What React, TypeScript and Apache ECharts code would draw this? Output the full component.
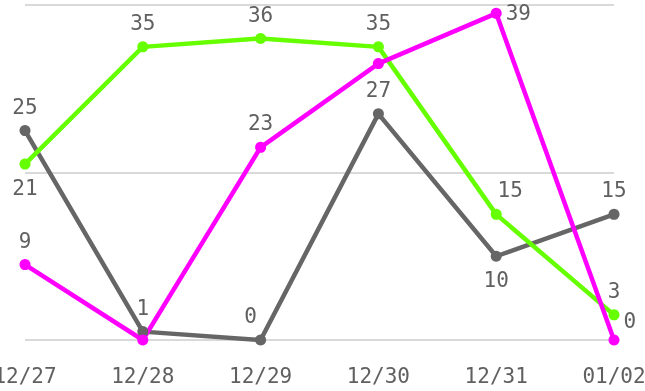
import React, { useEffect, useRef } from "react";
import * as echarts from "echarts";

const categories = ["12/27", "12/28", "12/29", "12/30", "12/31", "01/02"];
const grayValues = [25, 1, 0, 27, 10, 15];
const greenValues = [21, 35, 36, 35, 15, 3];
const magentaValues = [9, 0, 23, 33, 39, 0];

const grayLabelPos = ["top", "top", "top", "top", "bottom", "top"];
const greenLabelPos = ["bottom", "top", "top", "top", "top", "top"];
const magentaLabelPos = ["top", "none", "top", "none", "right", "right"];

const labelFont = "'DejaVu Sans Mono', monospace";

function build(values: number[], pos: string[], color: string, name: string) {
  return {
    name,
    type: "line",
    symbol: "circle",
    symbolSize: 11,
    lineStyle: { width: 4.5, color },
    itemStyle: { color },
    data: values.map((v, i) => {
      const p = pos[i];
      const label: any =
        p === "none"
          ? { show: false }
          : {
              show: true,
              position: p,
              distance: 8,
              color: "#606060",
              fontSize: 21,
              fontFamily: labelFont,
            };
      if (name === "gray" && i === 2) label.offset = [-10, 0];
      if (name === "green" && i === 4) label.offset = [14, 0];
      if (name === "magenta" && i === 5) label.offset = [-4, -19];
      if (name === "magenta" && i === 4) label.distance = 4;
      return { value: v, label };
    }),
  };
}

export default function App() {
  const ref = useRef<HTMLDivElement>(null);
  useEffect(() => {
    const chart = echarts.init(ref.current!, null, { renderer: "svg" });
    chart.setOption({
      animation: false,
      grid: { left: 25, right: 31, top: 5, bottom: 51, containLabel: false, outerBoundsMode: "none" },
      xAxis: {
        type: "category",
        data: categories,
        boundaryGap: false,
        axisLine: { show: false },
        axisTick: { show: false },
        axisLabel: {
          color: "#606060",
          fontSize: 21,
          fontFamily: labelFont,
          margin: 25,
        },
      },
      yAxis: {
        type: "value",
        min: 0,
        max: 40,
        interval: 20,
        axisLabel: { show: false },
        axisLine: { show: false },
        axisTick: { show: false },
        splitLine: { lineStyle: { color: "#cccccc", width: 1.5 } },
      },
      series: [
        build(grayValues, grayLabelPos, "#666666", "gray"),
        build(greenValues, greenLabelPos, "#66ff00", "green"),
        build(magentaValues, magentaLabelPos, "#ff00ff", "magenta"),
      ],
    });
    return () => chart.dispose();
  }, []);
  return <div ref={ref} style={{ width: 645, height: 391, position: "fixed", left: 0, top: 0 }} />;
}
